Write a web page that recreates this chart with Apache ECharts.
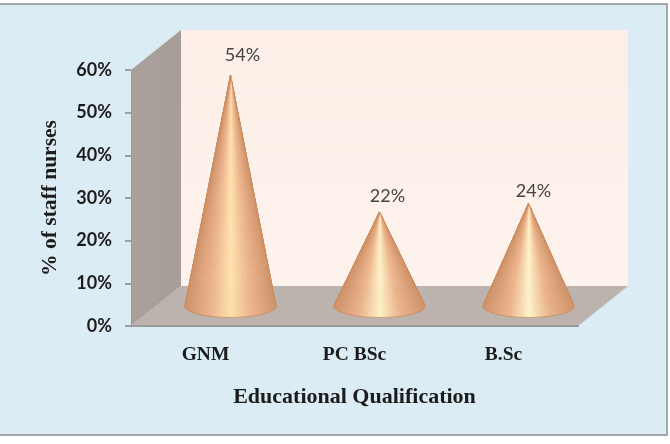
<!DOCTYPE html>
<html>
<head>
<meta charset="utf-8">
<style>html,body{margin:0;padding:0;background:#fff}#chart{width:670px;height:444px}</style>
<script src="https://cdn.jsdelivr.net/npm/echarts@6/dist/echarts.min.js"></script>
</head>
<body>
<div id="chart"></div>
<script>
// Staff nurses by educational qualification
const categories = ['GNM', 'PC BSc', 'B.Sc'];
const percentages = [54, 22, 24];
const yTicks = { min: 0, max: 60, step: 10 };

// Pseudo-3D box and cone styling
const depthX = 50, depthY = 40;
const coneRadiusX = 45.5, coneRadiusY = 11.5;
const labelNudge = [[12, -20.5], [8, -15.5], [5, -12.5]];
const coneHighlights = ['#ffe2ac', '#fff2c6', '#fff4ca'];

const chart = echarts.init(document.getElementById('chart'), null, { renderer: 'canvas' });

function renderBox(params) {
  const c = params.coordSys;
  const l = c.x, r = c.x + c.width, t = c.y, b = c.y + c.height;
  const shape = pts => ({ points: pts });
  return {
    type: 'group',
    children: [
      { type: 'polygon',
        shape: shape([[l + depthX, t - depthY], [r + depthX, t - depthY], [r + depthX, b - depthY], [l + depthX, b - depthY]]),
        style: { fill: new echarts.graphic.LinearGradient(0, 0, 0, 1, [
          { offset: 0, color: '#fdefe8' }, { offset: 1, color: '#fef2ec' }]) } },
      { type: 'polygon',
        shape: shape([[l, t], [l + depthX, t - depthY], [l + depthX, b - depthY], [l, b]]),
        style: { fill: new echarts.graphic.LinearGradient(0, 0, 1, 0, [
          { offset: 0, color: '#aaa19c' }, { offset: 1, color: '#a79d98' }]) } },
      { type: 'polygon',
        shape: shape([[l, b], [l + depthX, b - depthY], [r + depthX, b - depthY], [r, b]]),
        style: { fill: '#bcb3ae' } }
    ]
  };
}

// Shade of a cone facet from its horizontal position on the rim (-1 left, 1 right)
function facetColor(u, highlight) {
  const t = Math.abs(u);
  if (t < 0.45) return echarts.color.lerp(t / 0.45, [highlight, '#edb58e']);
  return echarts.color.lerp((t - 0.45) / 0.55, ['#edb58e', '#d0936a']);
}

function renderCone(params, api) {
  const idx = params.dataIndex;
  const top = api.coord([api.value(0), api.value(1)]);
  const foot = api.coord([api.value(0), 0]);
  const cx = foot[0] + depthX / 2;
  const cy = foot[1] - depthY / 2;
  const apexY = top[1] - depthY / 2;
  const h = cy - apexY;
  // Silhouette: apex, tangent points on the base ellipse, and the near half of the rim
  const start = Math.asin(coneRadiusY / h);
  const rim = [];
  const steps = 96;
  for (let i = 0; i <= steps; i++) {
    const a = -start + (Math.PI + 2 * start) * i / steps;
    rim.push([cx + coneRadiusX * Math.cos(a), cy + coneRadiusY * Math.sin(a)]);
  }
  const children = [];
  for (let i = 0; i < steps; i++) {
    const u = ((rim[i][0] + rim[i + 1][0]) / 2 - cx) / coneRadiusX;
    const col = facetColor(u, coneHighlights[idx]);
    children.push({ type: 'polygon', shape: { points: [[cx, apexY], rim[i], rim[i + 1]] },
      style: { fill: col, stroke: col, lineWidth: 0.6 } });
  }
  children.push({ type: 'polygon', shape: { points: [[cx, apexY]].concat(rim) },
    style: { fill: 'none', stroke: '#c48a5c', lineWidth: 0.8 } });
  const nudge = labelNudge[idx];
  children.push({ type: 'text',
    style: { x: cx + nudge[0], y: apexY + nudge[1], text: api.value(1) + '%',
      fill: '#444', font: '400 18px Lato', align: 'center', verticalAlign: 'middle' } });
  return { type: 'group', children };
}

chart.setOption({
  animation: false,
  backgroundColor: '#ffffff',
  graphic: [{
    type: 'rect', z: -10, silent: true,
    shape: { x: -3, y: 4, width: 670, height: 431 },
    style: { fill: '#dbecf4', stroke: '#8a8e90', lineWidth: 1.5 }
  }],
  grid: { left: 131, right: 92, top: 70, bottom: 118 },
  xAxis: {
    type: 'category',
    data: categories,
    z: 5,
    axisTick: { show: false },
    axisLine: { lineStyle: { color: '#9a9a9a', width: 2 } },
    axisLabel: { margin: 19, color: '#1c1c1c', fontFamily: 'Liberation Serif', fontWeight: 'bold', fontSize: 19.5 },
    name: 'Educational Qualification',
    nameLocation: 'middle',
    nameGap: 60,
    nameTextStyle: { color: '#1c1c1c', fontFamily: 'Liberation Serif', fontWeight: 'bold', fontSize: 22 }
  },
  yAxis: {
    type: 'value',
    min: yTicks.min,
    max: yTicks.max,
    interval: yTicks.step,
    z: 5,
    splitLine: { show: false },
    axisLine: { show: true, lineStyle: { color: '#9a9a9a', width: 1 } },
    axisTick: { show: true, length: 6, lineStyle: { color: '#888', width: 1.5 } },
    axisLabel: { margin: 19, color: '#1c1c1c', fontFamily: 'Lato', fontWeight: 'bold', fontSize: 18, padding: [3, 0, 0, 0], formatter: '{value}%' },
    name: '% of staff nurses',
    nameLocation: 'middle',
    nameGap: 70,
    nameTextStyle: { color: '#1c1c1c', fontFamily: 'Liberation Serif', fontWeight: 'bold', fontSize: 21.5 }
  },
  series: [
    { type: 'custom', z: 1, silent: true, clip: false, data: [0], renderItem: renderBox },
    { type: 'custom', z: 2, silent: true, clip: false,
      encode: { x: 0, y: 1 },
      data: percentages.map((v, i) => [i, v]),
      renderItem: renderCone }
  ]
});
</script>
</body>
</html>
